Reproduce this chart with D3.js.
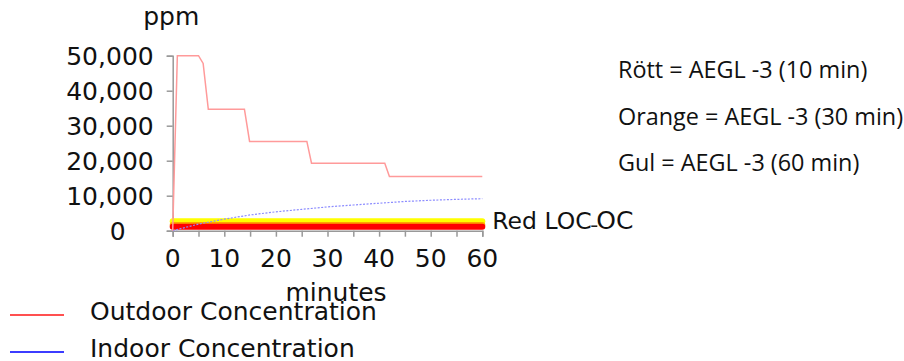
<!DOCTYPE html>
<html>
<head>
<meta charset="utf-8">
<script src="https://cdn.jsdelivr.net/npm/d3@7"></script>
<style>
  body { margin: 0; background: #fff; }
  .axisText { font-family: "DejaVu Sans", Verdana, sans-serif; font-size: 25px; fill: #111; }
  .note { font-family: "Open Sans", "Noto Sans", sans-serif; font-size: 23.4px; fill: #111; }
</style>
</head>
<body>
<div id="chart"></div>
<script>
// minutes / ppm
const outdoorTimes = [0, 0.9, 5, 5.9, 6.9, 13.9, 14.9, 26, 26.9, 41.1, 42, 60];
const outdoorValues = [0, 50000, 50000, 47800, 34700, 34700, 25500, 25500, 19300, 19300, 15500, 15500];

const indoorTimes = [0, 5, 10, 15, 20, 25, 30, 35, 40, 45, 50, 55, 60];
const indoorValues = [0, 1900, 3300, 4500, 5400, 6100, 6800, 7350, 7850, 8350, 8700, 8950, 9150];

// AEGL-3 levels (yellow 60 min, orange 30 min, red 10 min as drawn)
const bandNames = ["yellow", "orange", "red"];
const bandValues = [2700, 1600, 1100];
const bandColors = ["#ffff00", "#ffa500", "#ff0000"];

const xTicks = [0, 10, 20, 30, 40, 50, 60];
const xMinorTicks = [0, 5, 10, 15, 20, 25, 30, 35, 40, 45, 50, 55, 60];
const yTicks = [0, 10000, 20000, 30000, 40000, 50000];

const noteLines = ["Rött = AEGL -3 (10 min)", "Orange = AEGL -3 (30 min)", "Gul = AEGL -3 (60 min)"];
const legendNames = ["Outdoor Concentration", "Indoor Concentration"];
const legendColors = ["#ff5050", "#3c3cff"];

const w = 904, h = 361;
const xScale = d3.scaleLinear().domain([0, 60]).range([172.7, 482.3]);
const yScale = d3.scaleLinear().domain([0, 50000]).range([230.7, 55.7]);

const svg = d3.select('#chart').append("svg")
  .attr("width", w)
  .attr("height", h);

// axes
const leftAxis = d3.axisLeft(yScale).tickValues(yTicks).tickSize(6).tickPadding(13)
  .tickFormat(d3.format(","));
const bottomAxis = d3.axisBottom(xScale).tickValues(xMinorTicks).tickSize(6).tickFormat("");

const gy = svg.append("g")
  .attr("transform", `translate(${xScale(0)},0)`)
  .call(leftAxis);
gy.select(".domain").attr("stroke", "#999").attr("stroke-width", 1.5);
gy.selectAll(".tick line").attr("stroke", "#999").attr("stroke-width", 1.5);
gy.selectAll(".tick text")
  .attr("class", "axisText")
  .attr("dy", "0.37em")
  .attr("dx", (d) => d === 0 ? -28 : 0)
  .attr("font-size", null).attr("font-family", null).attr("fill", null);

const gx = svg.append("g")
  .attr("transform", `translate(0,${yScale(0)})`)
  .call(bottomAxis);
gx.select(".domain").attr("stroke", "#999").attr("stroke-width", 1.5);
gx.selectAll(".tick line").attr("stroke", "#999").attr("stroke-width", 1.5);

svg.append("g").selectAll("text")
  .data(xTicks)
  .join("text")
  .attr("class", "axisText")
  .attr("x", (d) => xScale(d))
  .attr("y", yScale(0) + 36.6)
  .attr("text-anchor", "middle")
  .text((d) => d);

svg.append("text")
  .attr("class", "axisText")
  .attr("x", 336)
  .attr("y", 301)
  .attr("text-anchor", "middle")
  .text("minutes");

svg.append("text")
  .attr("class", "axisText")
  .attr("x", xScale(0) - 1.5)
  .attr("y", 25)
  .attr("text-anchor", "middle")
  .text("ppm");

// level bands
bandValues.forEach((v, i) => {
  svg.append("line")
    .attr("class", "band " + bandNames[i])
    .attr("x1", xScale(0))
    .attr("x2", xScale(60))
    .attr("y1", yScale(v))
    .attr("y2", yScale(v))
    .attr("stroke", bandColors[i])
    .attr("stroke-width", 6)
    .attr("stroke-linecap", "round");
});

const line = d3.line()
  .x((d) => xScale(d[0]))
  .y((d) => yScale(d[1]));

svg.append("path")
  .attr("d", line(indoorTimes.map((t, i) => [t, indoorValues[i]])))
  .attr("stroke", "#8c8cff")
  .attr("stroke-width", 1.2)
  .attr("stroke-dasharray", "2,1.5")
  .attr("fill", "none");

svg.append("path")
  .attr("d", line(outdoorTimes.map((t, i) => [t, outdoorValues[i]])))
  .attr("stroke", "#ff9a9a")
  .attr("stroke-width", 1.5)
  .attr("fill", "none");

// band label (overlapping labels in the original)
const lx = xScale(60) + 10;
const ly = yScale(0) - 1.5;
svg.append("text")
  .attr("class", "axisText")
  .style("font-size", "23.5px")
  .attr("x", lx)
  .attr("y", ly)
  .text("Red LOC");
svg.append("line")
  .attr("x1", lx + 99).attr("x2", lx + 105)
  .attr("y1", ly - 3).attr("y2", ly - 3)
  .attr("stroke", "#111").attr("stroke-width", 1.5);
svg.append("text")
  .attr("class", "axisText")
  .style("font-size", "25px")
  .attr("x", lx + 104)
  .attr("y", ly)
  .text("OC");

// notes on the right
svg.append("g").selectAll("text")
  .data(noteLines)
  .join("text")
  .attr("class", "note")
  .attr("x", 618)
  .attr("y", (d, i) => 78 + i * 46.5)
  .text((d) => d);

// legend
legendNames.forEach((name, i) => {
  const y = 315 + i * 37;
  svg.append("line")
    .attr("x1", 10).attr("x2", 64)
    .attr("y1", y).attr("y2", y)
    .attr("stroke", legendColors[i])
    .attr("stroke-width", 2);
  svg.append("text")
    .attr("class", "axisText")
    .attr("x", 90)
    .attr("y", y + 5)
    .text(name);
});
</script>
</body>
</html>
